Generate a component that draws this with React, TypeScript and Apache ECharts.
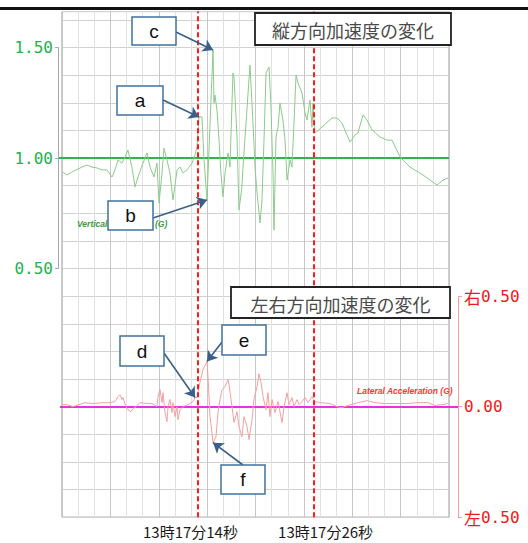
import React, { useEffect, useRef } from "react";
import * as echarts from "echarts";

// Time in seconds after 13:17:00, acceleration in G.
const verticalAccel: [number, number][] = [
  [0.05, 0.937], [0.52, 0.923], [1.03, 0.937], [2.07, 0.959], [2.58, 0.968], [3.1, 0.959],
  [3.62, 0.955], [4.13, 0.946], [4.65, 0.946], [5.17, 0.914], [5.48, 0.946], [5.79, 0.991],
  [6.2, 0.977], [6.51, 1.005], [6.82, 1.036], [7.24, 0.955], [7.55, 0.869], [7.86, 0.914],
  [8.37, 0.977], [8.79, 1.023], [9.1, 0.959], [9.51, 0.914], [9.82, 0.977], [10.03, 0.796],
  [10.34, 0.932], [10.54, 1.045], [10.85, 0.991], [11.16, 0.932], [11.47, 0.81], [11.89, 0.946],
  [12.2, 0.959], [12.51, 0.932], [12.92, 0.946], [13.44, 0.977], [13.75, 1.014], [13.95, 1.05],
  [14.16, 1.186], [14.47, 1.186], [14.68, 0.991], [14.99, 0.81], [15.19, 1.036], [15.61, 1.489],
  [15.71, 1.249], [15.81, 1.285], [16.02, 1.217], [16.23, 1.081], [16.43, 0.932], [16.64, 0.824],
  [16.85, 0.932], [17.16, 1.023], [17.36, 0.959], [17.67, 1.385], [17.78, 1.367], [18.09, 1.095],
  [18.29, 0.765], [18.6, 0.869], [18.71, 0.959], [19.02, 1.158], [19.43, 1.421], [19.74, 1.158],
  [19.95, 0.959], [20.16, 0.842], [20.47, 0.706], [20.67, 0.81], [20.88, 1.081], [21.09, 1.385],
  [21.4, 1.412], [21.6, 1.231], [21.81, 0.932], [21.91, 0.674], [22.12, 1.095], [22.33, 1.14],
  [22.53, 1.249], [22.84, 1.172], [23.05, 1.081], [23.26, 0.9], [23.57, 0.991], [23.77, 0.959],
  [23.98, 1.158], [24.19, 1.376], [24.39, 1.339], [24.81, 1.294], [25.12, 1.204], [25.32, 1.172],
  [25.63, 1.262], [25.84, 1.14], [25.94, 1.249], [26.15, 1.113], [26.87, 1.14], [27.91, 1.181],
  [28.42, 1.181], [28.94, 1.158], [29.77, 1.072], [30.28, 1.104], [30.59, 1.113], [31.11, 1.195],
  [31.52, 1.172], [32.04, 1.127], [32.87, 1.095], [33.59, 1.081], [34.11, 1.081], [34.94, 1.005],
  [35.97, 0.959], [37.31, 0.923], [38.76, 0.878], [39.38, 0.9], [39.9, 0.91],
];

// Positive = right, negative = left.
const lateralAccel: [number, number][] = [
  [0.02, 0.009], [0.52, 0.009], [1.14, 0], [2.38, 0.018], [3.2, 0.014], [4.24, 0.018],
  [4.96, 0.018], [5.48, 0.023], [5.79, 0.045], [5.99, 0.054], [6.2, 0.032], [6.3, 0.041],
  [6.61, 0], [6.82, -0.014], [7.13, -0.023], [7.34, -0.009], [7.65, 0], [8.06, 0.018],
  [8.79, 0.014], [9.3, 0.014], [9.82, 0], [9.92, 0.045], [10.13, 0.077], [10.34, 0.018],
  [10.44, 0.063], [10.65, -0.027], [10.85, -0.068], [10.96, 0], [11.16, 0.032], [11.37, -0.027],
  [11.47, 0.018], [11.68, -0.045], [11.89, 0], [11.99, -0.059], [12.2, -0.014], [12.51, 0],
  [13.02, 0.009], [13.54, 0.023], [13.75, 0.041], [13.95, 0.041], [14.26, 0.109], [14.57, 0.167],
  [14.99, 0.204], [15.09, 0.136], [15.3, -0.045], [15.5, -0.118], [15.61, -0.163], [15.92, -0.136],
  [16.12, -0.027], [16.33, 0.032], [16.54, 0.077], [16.85, 0.09], [17.16, 0.122], [17.26, 0.1],
  [17.57, 0], [17.78, -0.072], [18.09, -0.023], [18.29, -0.09], [18.6, -0.136], [18.81, -0.045],
  [19.12, -0.09], [19.33, -0.149], [19.64, -0.059], [19.84, 0.032], [20.16, 0.09], [20.36, 0.149],
  [20.57, 0.109], [20.78, 0.045], [21.09, -0.014], [21.29, 0.063], [21.5, -0.045], [21.71, 0.032],
  [22.02, -0.027], [22.33, 0.023], [22.53, -0.023], [22.74, -0.072], [22.95, 0], [23.26, 0.063],
  [23.46, 0.009], [23.77, 0.041], [23.98, 0], [24.29, 0.032], [24.5, 0.009], [24.81, 0.023],
  [25.12, 0.041], [25.43, 0.018], [25.84, 0.045], [26.15, 0.023], [26.67, 0.018], [27.7, 0.014],
  [28.42, 0], [28.94, -0.005], [29.56, 0.005], [30.59, 0.018], [31.52, 0.027], [32.35, 0.018],
  [33.38, 0.014], [34.63, 0.014], [35.66, 0.014], [36.69, 0.018], [37.83, 0.018], [38.55, 0.005],
  [39.28, 0.009], [39.9, 0.014],
];

// Event markers (seconds after 13:17:00)
const eventTimes = [14, 26];

// Axis ranges
const timeRange = [0, 40];
const verticalTicks = [0.5, 1.0, 1.5];
const lateralTicks = [-0.5, 0, 0.5];

// Callout letters and the sample time each one points at
const verticalCallouts = [
  { label: "a", t: 14.16 },
  { label: "b", t: 14.99 },
  { label: "c", t: 15.61 },
];
const lateralCallouts = [
  { label: "d", t: 13.75 },
  { label: "e", t: 14.99 },
  { label: "f", t: 15.61 },
];

const titles = ["縦方向加速度の変化", "左右方向加速度の変化"];

// ---- layout (pixels) ----
const PX_PER_G = 221;
const GRID_LEFT = 62;
const GRID_WIDTH = 387;
const GRID_TOP = 11.6;
const VERT_MIN = -0.625;
const VERT_MAX = 1.6625;
const SPAN = VERT_MAX - VERT_MIN;
const LAT_MIN = -0.5;
const LAT_MAX = LAT_MIN + SPAN;

const boxLayout: Record<string, { x: number; y: number; w: number; h: number; from: [number, number] }> = {
  a: { x: 117, y: 86, w: 46, h: 29, from: [163, 100] },
  b: { x: 108, y: 201, w: 45, h: 29, from: [153, 218] },
  c: { x: 132, y: 17, w: 44, h: 28, from: [176, 32] },
  d: { x: 120, y: 336, w: 44, h: 30, from: [164, 353] },
  e: { x: 222, y: 325, w: 44, h: 30, from: [222, 342] },
  f: { x: 221, y: 465, w: 44, h: 29, from: [243, 465] },
};

const GREEN = "#22b24c";
const RED = "#f01818";
const ARROW = "#3b5f88";

function pointAt(series: [number, number][], t: number): [number, number] {
  const p = series.find((d) => d[0] === t);
  return p ? p : series[0];
}

function calloutLines(series: [number, number][], callouts: { label: string; t: number }[]) {
  return callouts.map((c) => {
    const b = boxLayout[c.label];
    return [
      { x: b.from[0], y: b.from[1], symbol: "none" },
      {
        coord: pointAt(series, c.t),
        symbol: "arrow",
        symbolSize: 10,
        lineStyle: { color: ARROW, width: 1.6, type: "solid" },
      },
    ];
  });
}

function letterBox(label: string) {
  const b = boxLayout[label];
  return {
    type: "group",
    z: 100,
    children: [
      {
        type: "rect",
        z: 100,
        shape: { x: b.x, y: b.y, width: b.w, height: b.h },
        style: { fill: "#ffffff", stroke: "#41719c", lineWidth: 1.5 },
      },
      {
        type: "text",
        z: 101,
        x: b.x + b.w / 2,
        y: b.y + b.h / 2,
        style: {
          text: label,
          fill: "#111",
          fontSize: 19,
          fontFamily: "Liberation Sans, Arial, sans-serif",
          align: "center",
          verticalAlign: "middle",
          textAlign: "center",
          textVerticalAlign: "middle",
        },
      },
    ],
  };
}

function titleBox(text: string, x: number, y: number, w: number, h: number) {
  return {
    type: "group",
    z: 100,
    children: [
      {
        type: "rect",
        z: 100,
        shape: { x, y, width: w, height: h },
        style: { fill: "#ffffff", stroke: "#222", lineWidth: 1.8 },
      },
      {
        type: "text",
        z: 101,
        x: x + w / 2,
        y: y + h / 2 + 1,
        style: {
          text,
          fill: "#4a4a4a",
          fontSize: 18,
          fontFamily: "Noto Sans CJK JP, sans-serif",
          align: "center",
          verticalAlign: "middle",
          textAlign: "center",
          textVerticalAlign: "middle",
        },
      },
    ],
  };
}

function seriesName(text: string, x: number, y: number, color: string) {
  return {
    type: "text",
    z: 50,
    x,
    y,
    style: {
      text,
      fill: color,
      fontSize: 8.5,
      fontWeight: "bold",
      fontStyle: "italic",
      fontFamily: "Liberation Sans, Arial, sans-serif",
      verticalAlign: "middle",
      textVerticalAlign: "middle",
    },
  };
}

const pad2 = (v: number) => (v < 10 ? "0" + v : String(v));

export default function App() {
  const ref = useRef<HTMLDivElement>(null);

  useEffect(() => {
    document.body.style.margin = "0";
    if (!ref.current) return;
    const chart = echarts.init(ref.current, undefined, { renderer: "svg" });

    const leftAxisTop = GRID_TOP + (VERT_MAX - verticalTicks[2]) * PX_PER_G;
    const rightAxisTop = GRID_TOP + (LAT_MAX - lateralTicks[2]) * PX_PER_G;

    const labelFont = {
      fontSize: 15,
      fontFamily: "Noto Sans CJK JP, sans-serif",
      color: "#1a1a1a",
    };

    chart.setOption({
      animation: false,
      backgroundColor: "#ffffff",
      grid: [
        {
          left: GRID_LEFT,
          top: GRID_TOP,
          width: GRID_WIDTH,
          height: SPAN * PX_PER_G,
          show: true,
          borderColor: "#9a9a9a",
          borderWidth: 1,
          backgroundColor: "transparent",
        },
        {
          left: 58,
          top: leftAxisTop,
          width: GRID_LEFT + GRID_WIDTH - 58,
          height: (verticalTicks[2] - verticalTicks[0]) * PX_PER_G,
        },
        {
          left: 60,
          top: rightAxisTop,
          width: 458 - 60,
          height: (lateralTicks[2] - lateralTicks[0]) * PX_PER_G,
        },
      ],
      xAxis: [
        {
          type: "value",
          gridIndex: 0,
          min: timeRange[0],
          max: timeRange[1],
          interval: 5,
          axisLine: { show: false },
          axisTick: { show: false },
          minorTick: { show: false, splitNumber: 3 },
          splitLine: { show: true, lineStyle: { color: "#c6c6c6", width: 1 } },
          minorSplitLine: { show: true, lineStyle: { color: "#e2e2e2", width: 1 } },
          axisLabel: {
            show: true,
            customValues: eventTimes,
            margin: 7,
            formatter: (v: number) => {
              const s = `13時17分${pad2(v)}秒`;
              return v === eventTimes[0] ? `{l|${s}}` : `{r|${s}}`;
            },
            rich: {
              l: { ...labelFont, padding: [0, 14, 0, 0] },
              r: { ...labelFont, padding: [0, 0, 0, 24] },
            },
          },
        },
        { type: "value", gridIndex: 1, min: 0, max: 1, show: false },
        { type: "value", gridIndex: 2, min: 0, max: 1, show: false },
      ],
      yAxis: [
        {
          type: "value",
          gridIndex: 0,
          min: VERT_MIN,
          max: VERT_MAX,
          interval: 0.125,
          axisLine: { show: false },
          axisTick: { show: false },
          axisLabel: { show: false },
          splitLine: { show: true, lineStyle: { color: "#d2d2d2", width: 1 } },
        },
        {
          type: "value",
          gridIndex: 0,
          min: LAT_MIN,
          max: LAT_MAX,
          show: false,
          splitLine: { show: false },
        },
        {
          type: "value",
          gridIndex: 1,
          position: "left",
          min: verticalTicks[0],
          max: verticalTicks[2],
          interval: verticalTicks[1] - verticalTicks[0],
          z: 3,
          axisLine: { show: true, onZero: false, lineStyle: { color: "#a8a8a8", width: 1 } },
          axisTick: { show: true, length: 3, lineStyle: { color: "#a8a8a8" } },
          axisLabel: {
            margin: 5,
            color: GREEN,
            fontSize: 16,
            fontFamily: "DejaVu Sans Mono, monospace",
            formatter: (v: number) => v.toFixed(2),
          },
          splitLine: {
            show: true,
            showMinLine: false,
            showMaxLine: false,
            lineStyle: { color: "#2fb24f", width: 2 },
          },
        },
        {
          type: "value",
          gridIndex: 2,
          position: "right",
          min: lateralTicks[0],
          max: lateralTicks[2],
          interval: lateralTicks[1] - lateralTicks[0],
          z: 3,
          axisLine: { show: true, onZero: false, lineStyle: { color: "#f2a0a0", width: 1 } },
          axisTick: { show: true, length: 4, lineStyle: { color: "#f2a0a0" } },
          axisLabel: {
            margin: 6,
            formatter: (v: number) => {
              const n = Math.abs(v).toFixed(2);
              if (v > 0) return `{k|右}{n|${n}}`;
              if (v < 0) return `{k|左}{n|${n}}`;
              return `{n|${n}}`;
            },
            rich: {
              k: { fontSize: 17, fontFamily: "Noto Sans CJK JP, serif", color: RED },
              n: { fontSize: 16, fontFamily: "DejaVu Sans Mono, monospace", color: RED },
            },
          },
          splitLine: {
            show: true,
            showMinLine: false,
            showMaxLine: false,
            lineStyle: { color: "#e830e0", width: 2 },
          },
        },
      ],
      series: [
        {
          name: "Vertical Acceleration (G)",
          type: "line",
          xAxisIndex: 0,
          yAxisIndex: 0,
          data: verticalAccel,
          showSymbol: false,
          silent: true,
          lineStyle: { color: "#8acb8a", width: 1 },
          markLine: {
            silent: true,
            symbol: ["none", "none"],
            label: { show: false },
            lineStyle: { color: "#ff1a1a", width: 2, type: [5, 3] },
            data: [
              ...eventTimes.map((t) => ({ xAxis: t })),
              ...calloutLines(verticalAccel, verticalCallouts),
            ],
          },
        },
        {
          name: "Lateral Acceleration (G)",
          type: "line",
          xAxisIndex: 0,
          yAxisIndex: 1,
          data: lateralAccel,
          showSymbol: false,
          silent: true,
          lineStyle: { color: "#f5a0a0", width: 1 },
          markLine: {
            silent: true,
            symbol: ["none", "none"],
            label: { show: false },
            data: calloutLines(lateralAccel, lateralCallouts),
          },
        },
      ],
      graphic: [
        {
          type: "rect",
          z: 100,
          shape: { x: 0, y: 7, width: 528, height: 3 },
          style: { fill: "#111" },
        },
        // series caption, its middle covered by callout box "b"
        seriesName("Vertical", 77, 224, "#3a9a3a"),
        seriesName("(G)", 155, 224, "#3a9a3a"),
        seriesName("Lateral Acceleration (G)", 357, 391, "#ff3333"),
        titleBox(titles[0], 255, 13, 196, 32),
        titleBox(titles[1], 231, 287, 219, 31),
        ...["a", "b", "c", "d", "e", "f"].map(letterBox),
      ],
    });

    return () => chart.dispose();
  }, []);

  return <div ref={ref} style={{ width: 528, height: 543 }} />;
}
